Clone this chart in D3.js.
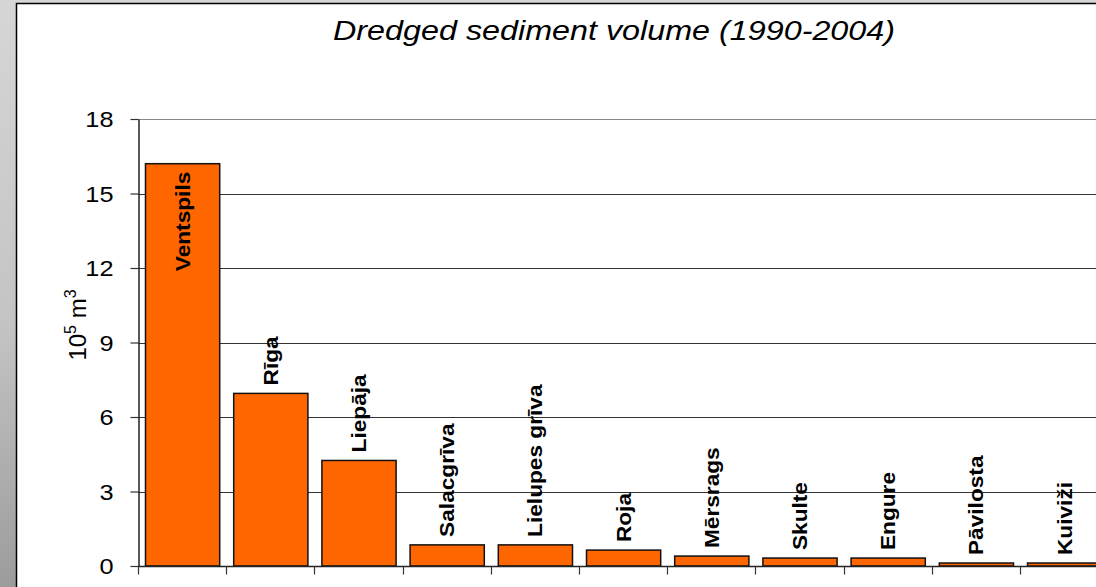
<!DOCTYPE html>
<html>
<head>
<meta charset="utf-8">
<script src="https://cdn.jsdelivr.net/npm/d3@7"></script>
<style>
  body { margin: 0; background: #fff; }
  svg { display: block; font-family: "Liberation Sans", Arial, sans-serif; }
</style>
</head>
<body>
<svg id="chart" width="1096" height="587"></svg>
<script>
// data
var ports = ["Ventspils", "Rīga", "Liepāja", "Salacgrīva", "Lielupes grīva", "Roja",
             "Mērsrags", "Skulte", "Engure", "Pāvilosta", "Kuiviži"];
var volumes = [16.2, 6.95, 4.25, 0.85, 0.85, 0.64, 0.40, 0.32, 0.32, 0.12, 0.12];
var yTicks = [0, 3, 6, 9, 12, 15, 18];
var title = "Dredged sediment volume (1990-2004)";

var W = 1096, H = 587;
var LEFT = 138, BOTTOM = 566, TOP = 119, STEP = 88.2;

var svg = d3.select("#chart");

// textured border strip, roughly
var defs = svg.append("defs");
var grad = defs.append("linearGradient")
    .attr("id", "stone")
    .attr("x1", 0).attr("y1", 0).attr("x2", 0).attr("y2", 1);
grad.append("stop").attr("offset", "0%").attr("stop-color", "#d6d6d6");
grad.append("stop").attr("offset", "55%").attr("stop-color", "#c4c4c4");
grad.append("stop").attr("offset", "100%").attr("stop-color", "#9c9c9c");

svg.append("rect")
    .attr("x", 0).attr("y", 0)
    .attr("width", W).attr("height", H)
    .attr("fill", "url(#stone)");

svg.append("rect")
    .attr("x", 16.5).attr("y", 3.5)
    .attr("width", W + 10).attr("height", H + 10)
    .attr("fill", "#fff")
    .attr("stroke", "#000")
    .attr("stroke-width", 1.5);

var x = d3.scaleBand()
    .domain(ports)
    .range([LEFT, LEFT + STEP * ports.length])
    .padding(0);

var y = d3.scaleLinear()
    .domain([0, 18])
    .range([BOTTOM, TOP]);

// gridlines
svg.append("g")
    .selectAll("line")
    .data(yTicks.filter(function (d) { return d > 0; }))
    .enter().append("line")
    .attr("x1", LEFT).attr("x2", W)
    .attr("y1", function (d) { return Math.round(y(d)) + 0.5; })
    .attr("y2", function (d) { return Math.round(y(d)) + 0.5; })
    .attr("stroke", function (d) { return d == 18 ? "#888" : "#333"; })
    .attr("stroke-width", 1.2);

// y axis
var PAD = 17;
var yAxis = svg.append("g")
    .attr("transform", "translate(" + (LEFT + 0.5) + ",0)")
    .call(d3.axisLeft(y).tickValues(yTicks).tickSize(8).tickSizeOuter(0).tickPadding(PAD));
yAxis.select(".domain").attr("stroke", "#222").attr("stroke-width", 1.5);
yAxis.selectAll(".tick line").attr("stroke", "#333").attr("stroke-width", 1.2);
yAxis.selectAll(".tick text")
    .attr("font-size", 22)
    .attr("fill", "#000")
    .attr("font-family", "Liberation Sans, Arial, sans-serif")
    .attr("dy", "0.36em")
    .attr("transform", function () {
        // slightly wider glyphs like the source
        var tx = -(8 + PAD);
        return "translate(" + tx + ",0) scale(1.15,1) translate(" + (-tx) + ",0)";
    });

// bars
svg.append("g")
    .selectAll("rect")
    .data(ports)
    .enter().append("rect")
    .attr("x", function (d) { return x(d) + 7.5; })
    .attr("width", x.bandwidth() - 14)
    .attr("y", function (d, i) { return y(volumes[i]); })
    .attr("height", function (d, i) { return BOTTOM - y(volumes[i]); })
    .attr("fill", "#ff6600")
    .attr("stroke", "#111")
    .attr("stroke-width", 1.5);

// x axis
var xAxis = svg.append("g")
    .attr("transform", "translate(0," + (BOTTOM + 0.5) + ")");
xAxis.append("line")
    .attr("x1", LEFT).attr("x2", W)
    .attr("stroke", "#222").attr("stroke-width", 1.5);
xAxis.selectAll("line.tick")
    .data(d3.range(ports.length + 1))
    .enter().append("line")
    .attr("class", "tick")
    .attr("x1", function (i) { return Math.round(LEFT + i * x.step()) + 0.5; })
    .attr("x2", function (i) { return Math.round(LEFT + i * x.step()) + 0.5; })
    .attr("y1", 0).attr("y2", 8)
    .attr("stroke", "#333").attr("stroke-width", 1.2);

// bar labels
svg.append("g")
    .selectAll("text")
    .data(ports)
    .enter().append("text")
    .attr("transform", function (d, i) {
        var cx = x(d) + x.bandwidth() / 2;
        var top = y(volumes[i]);
        var ty = i == 0 ? top + 8 : top - 8;
        return "translate(" + cx + "," + ty + ") rotate(-90) scale(1.08,1)";
    })
    .attr("text-anchor", function (d, i) { return i == 0 ? "end" : "start"; })
    .attr("dy", "0.36em")
    .attr("font-size", 21)
    .attr("font-weight", "bold")
    .attr("fill", "#000")
    .text(function (d) { return d; });

// y axis title
var yt = svg.append("text")
    .attr("transform", "translate(86,325) rotate(-90)")
    .attr("text-anchor", "middle")
    .attr("font-size", 24)
    .attr("fill", "#000");
yt.append("tspan").text("10");
yt.append("tspan").attr("dy", -10).attr("font-size", 16).text("5");
yt.append("tspan").attr("dy", 10).text(" m");
yt.append("tspan").attr("dy", -10).attr("font-size", 16).text("3");

// title
svg.append("text")
    .attr("x", 614)
    .attr("y", 40)
    .attr("text-anchor", "middle")
    .attr("font-size", 28)
    .attr("font-style", "italic")
    .attr("textLength", 562)
    .attr("lengthAdjust", "spacingAndGlyphs")
    .attr("fill", "#000")
    .text(title);
</script>
</body>
</html>
